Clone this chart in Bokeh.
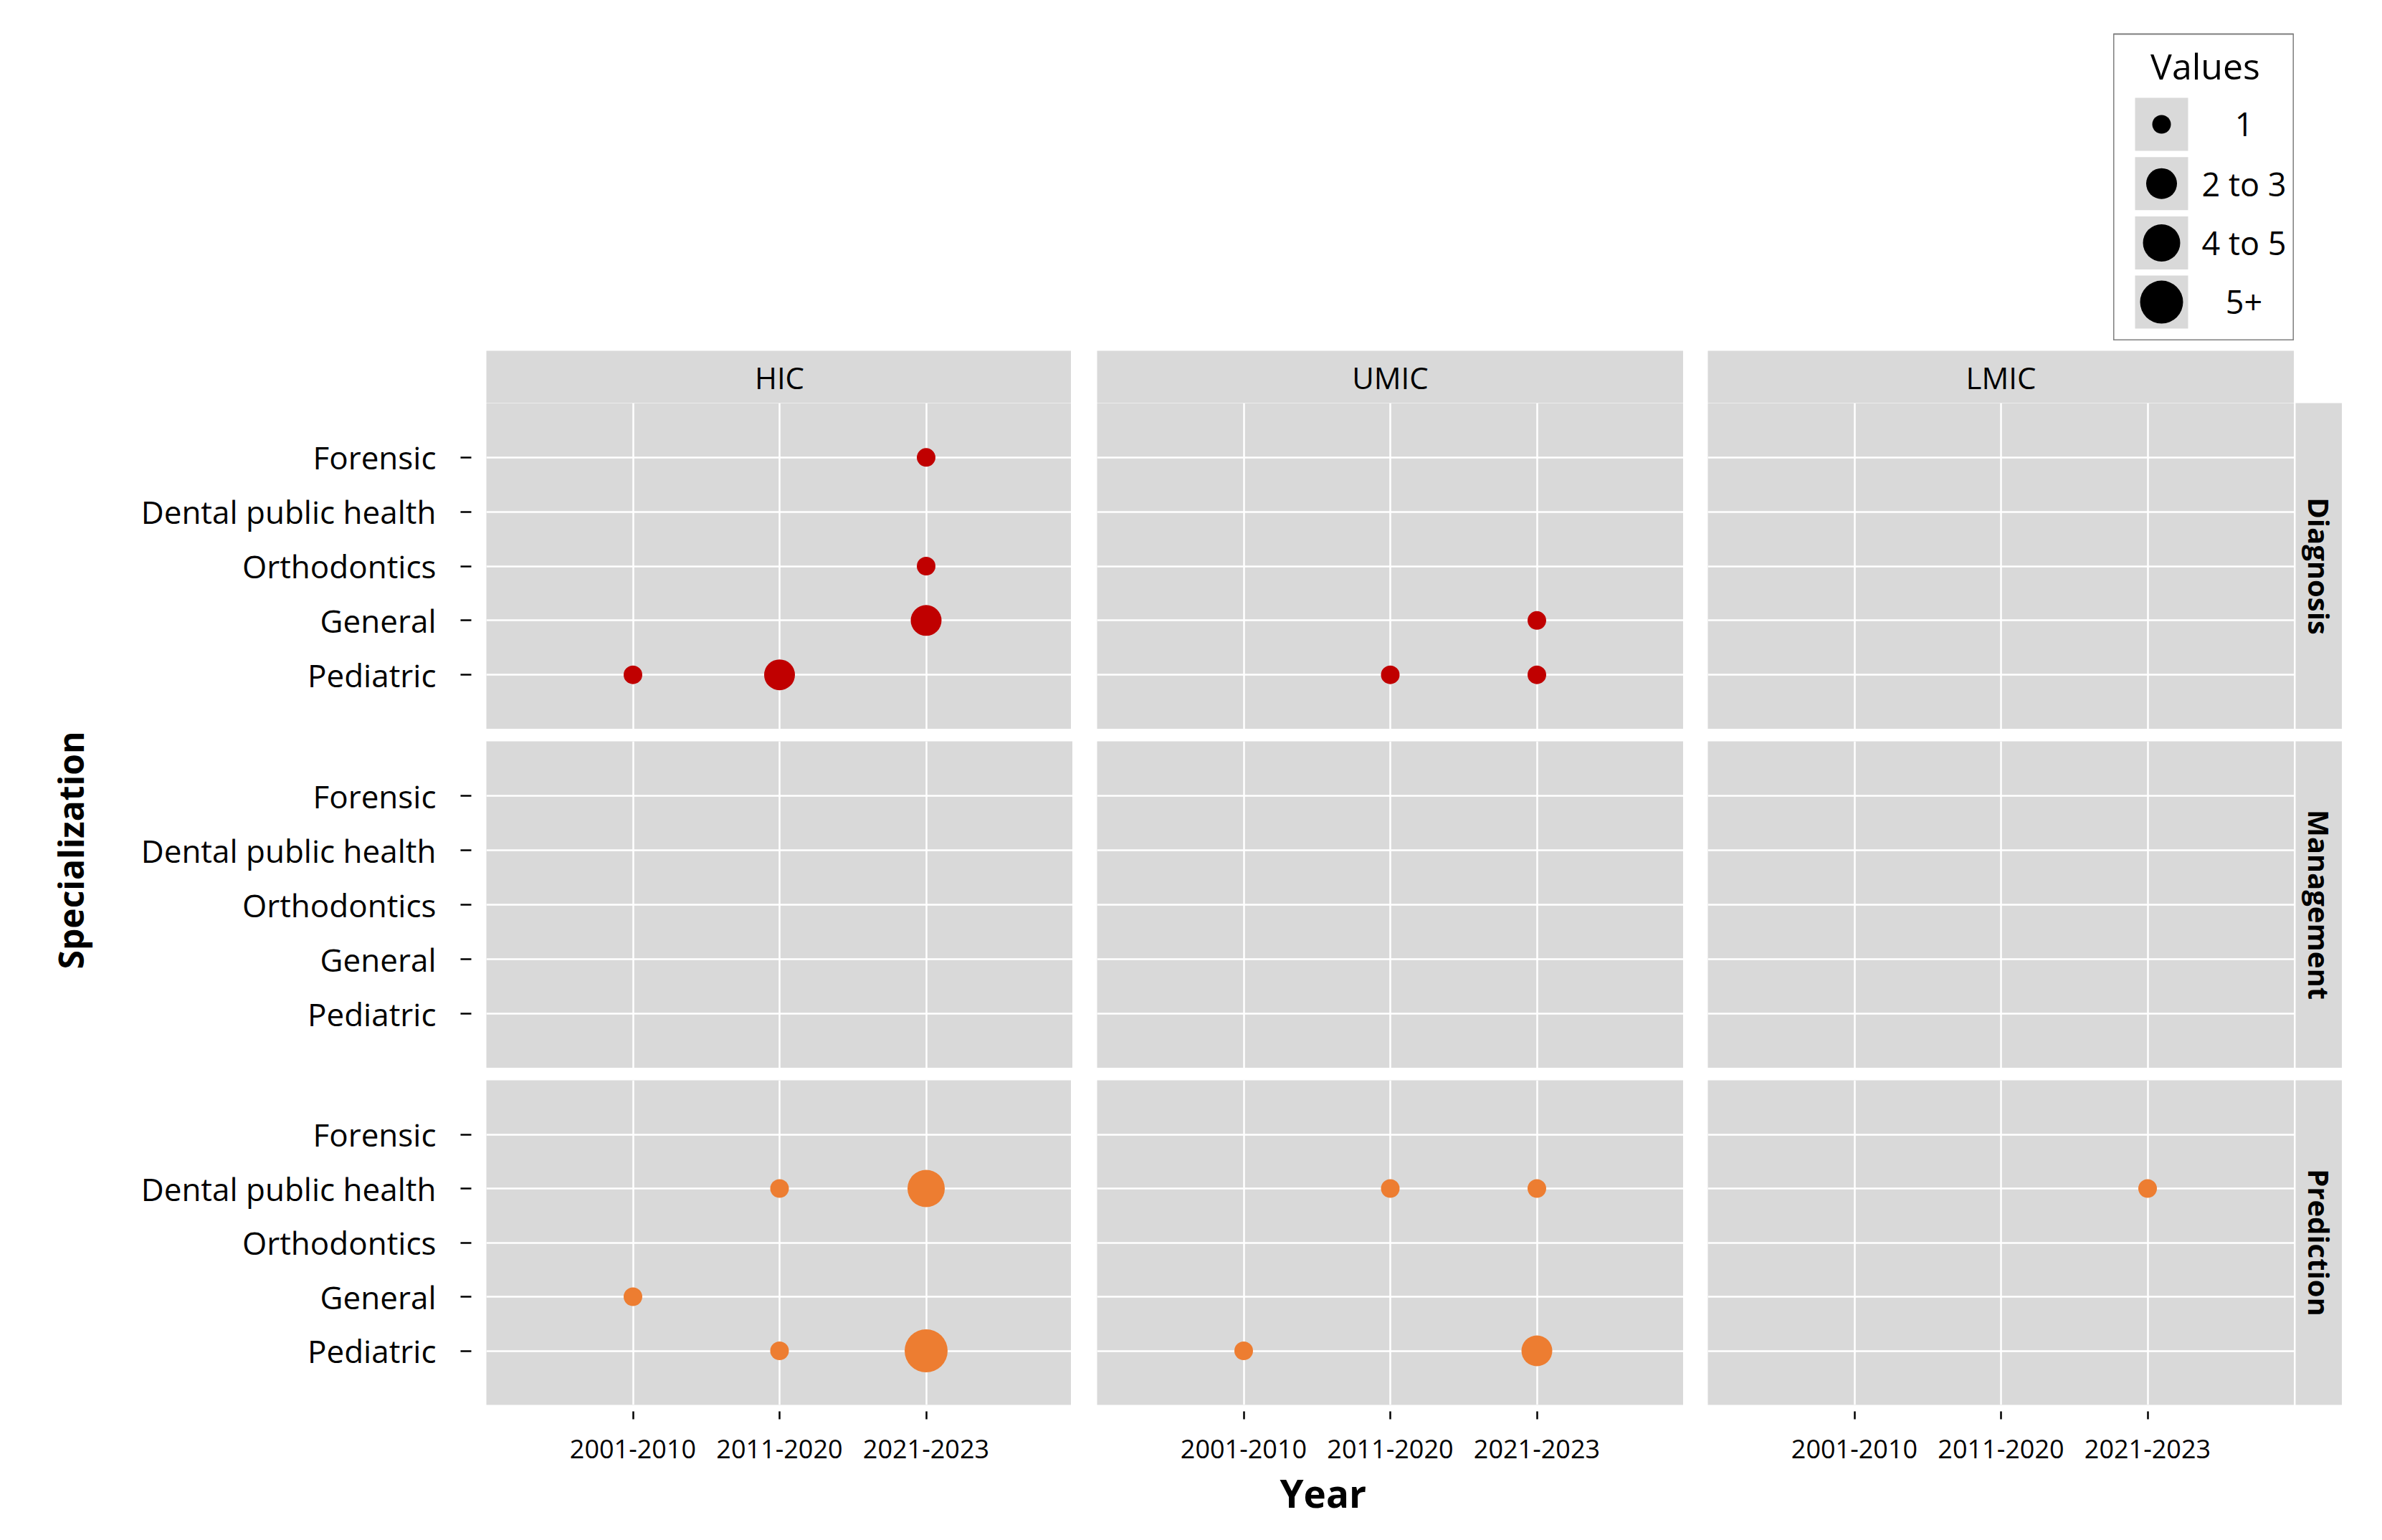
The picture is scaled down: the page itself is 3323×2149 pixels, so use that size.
import math
from bokeh.plotting import figure
from bokeh.layouts import gridplot, column, row
from bokeh.models import ColumnDataSource, FactorRange, Range1d, Label, Title, Spacer
from bokeh.embed import file_html
from bokeh.resources import INLINE
from bokeh.core.properties import value

# ---------------- data ----------------
incomes = ["HIC", "UMIC", "LMIC"]
purposes = ["Diagnosis", "Management", "Prediction"]
specializations = ["Pediatric", "General", "Orthodontics", "Dental public health", "Forensic"]  # bottom -> top
periods = ["2001-2010", "2011-2020", "2021-2023"]
value_bins = ["1", "2 to 3", "4 to 5", "5+"]

pt_income = ["HIC", "HIC", "HIC", "HIC", "HIC",
             "UMIC", "UMIC", "UMIC",
             "HIC", "HIC", "HIC", "HIC", "HIC",
             "UMIC", "UMIC", "UMIC", "UMIC",
             "LMIC"]
pt_purpose = ["Diagnosis"] * 8 + ["Prediction"] * 10
pt_spec = ["Forensic", "Orthodontics", "General", "Pediatric", "Pediatric",
           "General", "Pediatric", "Pediatric",
           "Dental public health", "Dental public health", "General", "Pediatric", "Pediatric",
           "Dental public health", "Dental public health", "Pediatric", "Pediatric",
           "Dental public health"]
pt_period = ["2021-2023", "2021-2023", "2021-2023", "2001-2010", "2011-2020",
             "2021-2023", "2011-2020", "2021-2023",
             "2011-2020", "2021-2023", "2001-2010", "2011-2020", "2021-2023",
             "2011-2020", "2021-2023", "2001-2010", "2021-2023",
             "2021-2023"]
pt_value = ["1", "1", "2 to 3", "1", "2 to 3",
            "1", "1", "1",
            "1", "4 to 5", "1", "1", "5+",
            "1", "1", "1", "2 to 3",
            "1"]

# ---------------- style ----------------
BIN_SIZE = dict(zip(value_bins, [26, 43, 52, 60]))
PURPOSE_COLOR = {"Diagnosis": "#C00000", "Management": "#7F7F7F", "Prediction": "#ED7D31"}
PANEL_BG = "#D9D9D9"
FONT = "Open Sans"
FRAME_W = 818
FRAME_H = [455, 456, 453]
GAP_X = 34
GAP_Y = 17
LEFT_BORDER = 676
BOTTOM_BORDER = 180


def base_fig(**kw):
    opts = dict(output_backend="svg", toolbar_location=None, min_border=0,
                min_border_left=0, min_border_right=0, min_border_top=0, min_border_bottom=0,
                border_fill_color="white", outline_line_color=None)
    opts.update(kw)
    return figure(**opts)


def panel(i, j):
    left = j == 0
    bottom = i == 2
    p = base_fig(
        x_range=FactorRange(factors=periods, range_padding=1 / 3),
        y_range=FactorRange(factors=specializations, range_padding=0.2),
        frame_width=FRAME_W, frame_height=FRAME_H[i],
        x_axis_location="below" if bottom else None,
        y_axis_location="left" if left else None,
        min_border_left=LEFT_BORDER if left else GAP_X,
        min_border_top=0 if i == 0 else GAP_Y,
        min_border_bottom=BOTTOM_BORDER if bottom else 0,
        background_fill_color=PANEL_BG,
    )
    for g in p.xgrid + p.ygrid:
        g.grid_line_color = "white"
        g.grid_line_width = 2.5
    if left:
        ax = p.yaxis[0]
        ax.axis_line_color = None
        ax.major_tick_in = -21
        ax.major_tick_out = 36
        ax.major_tick_line_color = "black"
        ax.major_tick_line_width = 2.5
        ax.major_label_standoff = 34
        ax.major_label_text_font = FONT
        ax.major_label_text_font_size = "44px"
        ax.major_label_text_color = "black"
    if bottom:
        ax = p.xaxis[0]
        ax.axis_line_color = None
        ax.major_tick_in = -9
        ax.major_tick_out = 20
        ax.major_tick_line_color = "black"
        ax.major_tick_line_width = 2.5
        ax.major_label_standoff = 28
        ax.major_label_text_font = FONT
        ax.major_label_text_font_size = "36px"
        ax.major_label_text_color = "black"

    inc, pur = incomes[j], purposes[i]
    idx = [k for k in range(len(pt_income)) if pt_income[k] == inc and pt_purpose[k] == pur]
    if idx:
        src = ColumnDataSource(dict(
            x=[pt_period[k] for k in idx],
            y=[pt_spec[k] for k in idx],
            s=[BIN_SIZE[pt_value[k]] for k in idx],
        ))
        p.scatter("x", "y", size="s", source=src, fill_color=PURPOSE_COLOR[pur], line_color=None)
    return p


def strip(text, fw, fh, angle, bold, **borders):
    p = base_fig(x_range=Range1d(0, 1), y_range=Range1d(0, 1), frame_width=fw, frame_height=fh,
                 x_axis_location=None, y_axis_location=None, background_fill_color=PANEL_BG, **borders)
    for g in p.xgrid + p.ygrid:
        g.grid_line_color = None
    p.add_layout(Label(x=0.5, y=0.5, text=text, text_align="center", text_baseline="middle",
                       angle=angle, text_font=FONT, text_font_size="42px" if not bold else "40px",
                       text_font_style="bold" if bold else "normal", text_color="black"))
    return p


# ---------------- grid ----------------
grid_rows = []
top = []
for j, inc in enumerate(incomes):
    top.append(strip(inc, FRAME_W, 73, 0, False,
                     min_border_left=LEFT_BORDER if j == 0 else GAP_X, min_border_top=14))
top.append(None)
grid_rows.append(top)

panels = {}
for i, pur in enumerate(purposes):
    r = []
    for j in range(3):
        pp = panel(i, j)
        panels[(i, j)] = pp
        r.append(pp)
    r.append(strip(pur, 65, FRAME_H[i], -math.pi / 2, True,
                   min_border_left=2,
                   min_border_top=0 if i == 0 else GAP_Y,
                   min_border_bottom=BOTTOM_BORDER if i == 2 else 0))
    grid_rows.append(r)

# axis titles
panels[(1, 0)].add_layout(Title(text="Specialization", align="left", offset=138,
                                text_font=FONT, text_font_size="48px", text_font_style="bold",
                                text_color="black", standoff=126), "left")
panels[(2, 1)].add_layout(Title(text="Year", align="left", offset=255,
                                text_font=FONT, text_font_size="53px", text_font_style="bold",
                                text_color="black", standoff=14), "below")

grid = gridplot(grid_rows, toolbar_location=None)

# ---------------- size legend ----------------
LW, LH = 252, 428
lg = base_fig(x_range=Range1d(0, LW), y_range=Range1d(0, LH), frame_width=LW, frame_height=LH,
              x_axis_location=None, y_axis_location=None, min_border_top=47,
              background_fill_color="white", outline_line_color="#7F7F7F", outline_line_width=2)
for g in lg.xgrid + lg.ygrid:
    g.grid_line_color = None
key_y = [LH - (126 + 82.7 * k) for k in range(len(value_bins))]
lg.scatter(x=[67] * len(value_bins), y=key_y, marker="square", size=74,
           fill_color=PANEL_BG, line_color=None)
lg.scatter(x=[67] * len(value_bins), y=key_y, size=[BIN_SIZE[b] for b in value_bins],
           fill_color="black", line_color=None)
lg.text(x=[182] * len(value_bins), y=key_y, text=value_bins, text_align="center",
        text_baseline="middle", text_font=value(FONT), text_font_size="45px", text_color="black")
lg.text(x=[128], y=[LH - 44], text=["Values"], text_align="center", text_baseline="middle",
        text_font=value(FONT), text_font_size="50px", text_color="black")

layout = column(row(Spacer(width=2948, height=1), lg), grid)

open("out.html", "w").write(file_html(layout, INLINE))
